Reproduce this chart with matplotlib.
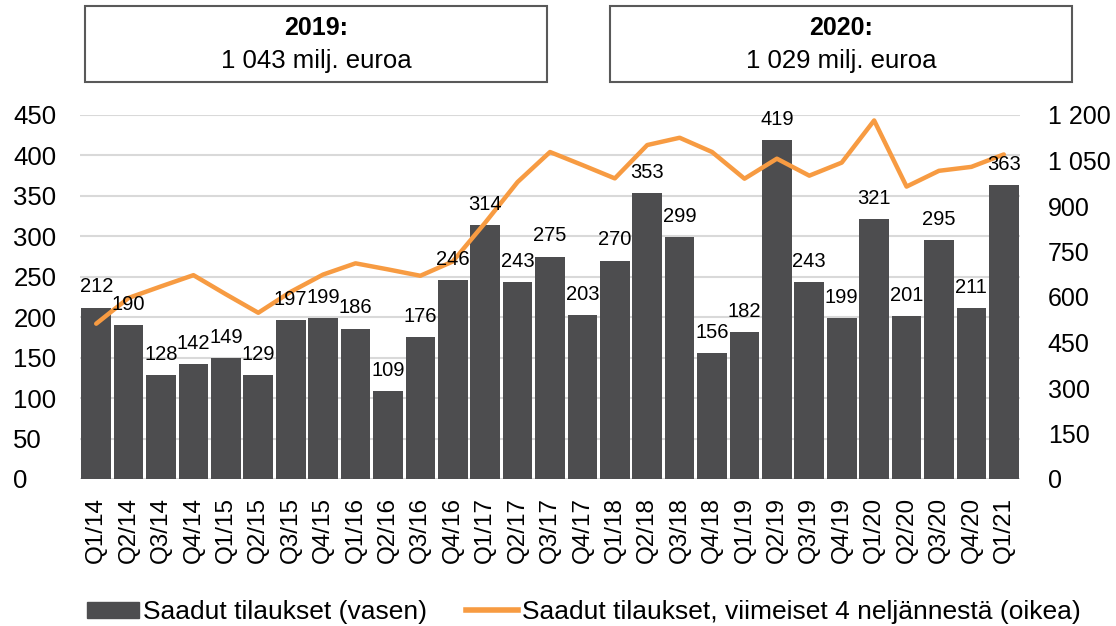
import matplotlib.pyplot as plt
from matplotlib.patches import Rectangle
from matplotlib.lines import Line2D
import numpy as np

plt.rcParams['font.family'] = ['Liberation Sans', 'DejaVu Sans']

quarters = ['Q1/14', 'Q2/14', 'Q3/14', 'Q4/14', 'Q1/15', 'Q2/15', 'Q3/15', 'Q4/15',
            'Q1/16', 'Q2/16', 'Q3/16', 'Q4/16', 'Q1/17', 'Q2/17', 'Q3/17', 'Q4/17',
            'Q1/18', 'Q2/18', 'Q3/18', 'Q4/18', 'Q1/19', 'Q2/19', 'Q3/19', 'Q4/19',
            'Q1/20', 'Q2/20', 'Q3/20', 'Q4/20', 'Q1/21']
orders = [212, 190, 128, 142, 149, 129, 197, 199, 186, 109, 176, 246, 314, 243, 275,
          203, 270, 353, 299, 156, 182, 419, 243, 199, 321, 201, 295, 211, 363]
rolling4 = [512, 597, 635, 672, 609, 548, 617, 674, 711, 691, 670, 717, 845, 979, 1078,
            1035, 991, 1101, 1125, 1078, 990, 1056, 1000, 1043, 1182, 964, 1016, 1029, 1070]
left_ticks = [0, 50, 100, 150, 200, 250, 300, 350, 400, 450]
right_ticks = [0, 150, 300, 450, 600, 750, 900, 1050, 1200]
right_labels = ['0', '150', '300', '450', '600', '750', '900', '1 050', '1 200']

bar_color = '#4d4d4f'
line_color = '#f79b42'
W, H = 1116, 626

fig = plt.figure(figsize=(W / 100, H / 100), dpi=100)
ax = fig.add_axes([80 / W, 1 - 479 / H, 940 / W, (479 - 115) / H])
x = np.arange(len(quarters))

ax.bar(x, orders, width=0.915, color=bar_color, zorder=2)
ax.set_ylim(0, 450)
ax.set_xlim(-0.5, len(quarters) - 0.5)
ax.set_yticks(left_ticks)
ax.yaxis.grid(True, color='#d9d9d9', linewidth=1.5, zorder=0)
ax.set_axisbelow(True)
for s in ax.spines.values():
    s.set_visible(False)
ax.tick_params(axis='y', length=0, labelsize=18.5, pad=48)
ax.tick_params(axis='x', length=0, labelsize=17.5, pad=13)
ax.set_xticks(x)
ax.set_xticklabels(quarters, rotation=90)
for lab in ax.get_yticklabels():
    lab.set_horizontalalignment('left')

ax2 = ax.twinx()
ax2.plot(x, rolling4, color=line_color, linewidth=3.2, solid_capstyle='round', zorder=3)
ax2.set_ylim(0, 1200)
ax2.set_yticks(right_ticks)
ax2.set_yticklabels(right_labels)
for s in ax2.spines.values():
    s.set_visible(False)
ax2.tick_params(axis='y', length=0, labelsize=18, pad=20)

for xi, v in zip(x, orders):
    ax2.annotate(str(v), (xi, v * 1200 / 450), xytext=(0, 8), textcoords='offset points',
                 ha='center', va='bottom', fontsize=14.5, zorder=4)

# boxes at the top
for x0, x1, year, total in [(85, 547, '2019:', '1 043 milj. euroa'),
                            (610, 1072, '2020:', '1 029 milj. euroa')]:
    fig.patches.append(Rectangle((x0 / W, 1 - 82 / H), (x1 - x0) / W, 76 / H,
                                 transform=fig.transFigure, fill=False,
                                 edgecolor='#595959', linewidth=1.5))
    cx = (x0 + x1) / 2 / W
    fig.text(cx, 1 - 28 / H, year, ha='center', va='center', fontsize=18, fontweight='bold')
    fig.text(cx, 1 - 61 / H, total, ha='center', va='center', fontsize=18.5)

handles = [Rectangle((0, 0), 1, 1, color=bar_color),
           Line2D([0], [0], color=line_color, linewidth=4)]
fig.legend(handles, ['Saadut tilaukset (vasen)',
                     'Saadut tilaukset, viimeiset 4 neljännestä (oikea)'],
           loc='center', bbox_to_anchor=(0.523, 1 - 612 / H), ncol=2, frameon=False,
           fontsize=19, handlelength=1.95, handleheight=0.55, handletextpad=0.15,
           columnspacing=1.5, borderpad=0, borderaxespad=0)

fig.savefig('out.png', dpi=100)
